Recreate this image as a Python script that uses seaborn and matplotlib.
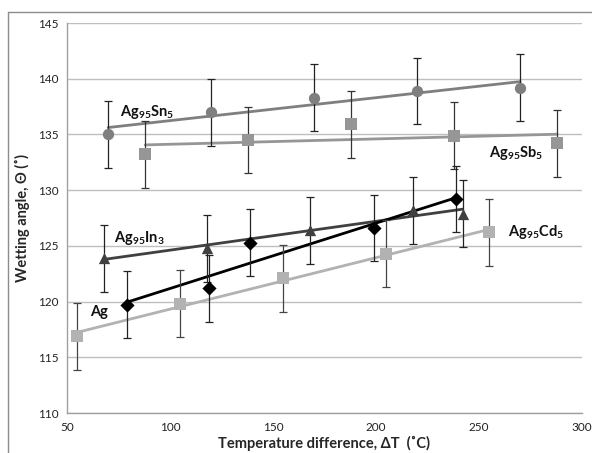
import matplotlib
matplotlib.use("Agg")
import matplotlib.pyplot as plt
import seaborn as sns
import numpy as np
from matplotlib.lines import Line2D

sns.set_style("white")
plt.rcParams['font.family'] = ['Lato', 'DejaVu Sans']
plt.rcParams['mathtext.default'] = 'regular'

# data (x = delta T, y = wetting angle)
sn_x = [70, 120, 170, 220, 270]
sn_y = [135.0, 137.0, 138.3, 138.9, 139.2]
sb_x = [88, 138, 188, 238, 288]
sb_y = [133.2, 134.5, 135.9, 134.9, 134.2]
in_x = [68, 118, 168, 218, 242]
in_y = [123.9, 124.8, 126.4, 128.2, 127.9]
ag_x = [79, 119, 139, 199, 239]
ag_y = [119.7, 121.2, 125.3, 126.6, 129.2]
cd_x = [55, 105, 155, 205, 255]
cd_y = [116.9, 119.8, 122.1, 124.3, 126.2]
err = 3.0

series = [
    (sn_x, sn_y, 'o', '#7f7f7f', 7.5, '#222222'),
    (sb_x, sb_y, 's', '#969696', 7.5, '#333333'),
    (in_x, in_y, '^', '#404040', 7.5, '#222222'),
    (ag_x, ag_y, 'D', '#000000', 6.5, '#222222'),
    (cd_x, cd_y, 's', '#b2b2b2', 7.5, '#444444'),
]

fig = plt.figure(figsize=(5.92, 4.53), dpi=100)
ax = fig.add_axes([67 / 592, 40 / 453, 515 / 592, 390 / 453])

for x, y, m, c, ms, ec in series:
    x = np.array(x, dtype=float)
    y = np.array(y, dtype=float)
    # linear trendline
    k, b = np.polyfit(x, y, 1)
    xs = np.array([x.min(), x.max()])
    ax.plot(xs, k * xs + b, color=c, lw=2, zorder=2)
    ax.errorbar(x, y, yerr=err, fmt='none', ecolor=ec, elinewidth=0.9,
                capsize=3, capthick=0.9, zorder=3)
    sns.scatterplot(x=x, y=y, marker=m, color=c, s=ms ** 2 + 10,
                    edgecolor=c, linewidth=0, ax=ax, zorder=4)

lab = dict(fontsize=10.5, fontweight='bold', color='#111111', va='center')
ax.text(75.5, 137.0, 'Ag$_{95}$Sn$_5$', **lab)
ax.text(255, 133.3, 'Ag$_{95}$Sb$_5$', **lab)
ax.text(73, 125.7, 'Ag$_{95}$In$_3$', **lab)
ax.text(61, 119.1, 'Ag', **lab)
ax.text(264, 126.2, 'Ag$_{95}$Cd$_5$', **lab)

ax.set_xlim(50, 300)
ax.set_ylim(110, 145)
ax.set_xticks(range(50, 301, 50))
ax.set_yticks(range(110, 146, 5))
ax.yaxis.grid(True, color='#bfbfbf', lw=1)
ax.xaxis.grid(False)
for s in ['top', 'right']:
    ax.spines[s].set_visible(False)
for s in ['left', 'bottom']:
    ax.spines[s].set_color('#a0a0a0')
    ax.spines[s].set_linewidth(1)
ax.tick_params(axis='both', labelsize=8.5, colors='#222222', length=3,
               width=0.8, color='#a0a0a0', pad=3)
ax.tick_params(axis='x', direction='inout', pad=5)
ax.set_xlabel('Temperature difference, ΔT  (˚C)', fontsize=10.5,
              fontweight='bold', labelpad=2)
ax.set_ylabel('Wetting angle, Θ (˚)', fontsize=10.5, fontweight='bold',
              labelpad=6)

# outer chart frame (left and top edges visible)
fig.add_artist(Line2D([8 / 592, 8 / 592], [0, 1 - 12 / 453],
                      transform=fig.transFigure, color='#8c8c8c', lw=1))
fig.add_artist(Line2D([8 / 592, 1], [1 - 12 / 453, 1 - 12 / 453],
                      transform=fig.transFigure, color='#8c8c8c', lw=1))

fig.savefig('out.png', dpi=100)
